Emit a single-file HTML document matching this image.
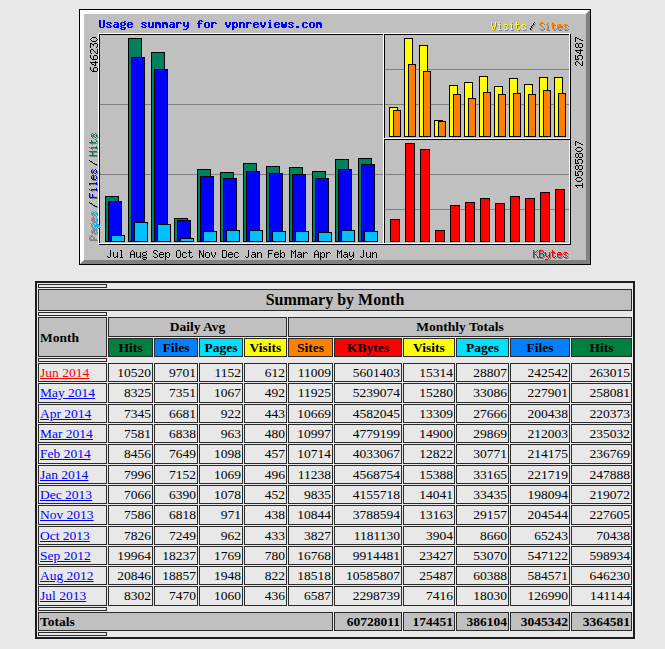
<html><head><meta charset="utf-8"><style>
html,body{margin:0;padding:0;background:#e8e8e8;width:665px;height:649px;overflow:hidden;position:relative}
body{font-family:"Liberation Serif",serif;color:#000}
table.s{position:absolute;left:35px;top:281px;width:600px;border-collapse:separate;border-spacing:1px;border:2px solid #1c1c1c;table-layout:fixed}
table.s td,table.s th{border:1px solid #2a2a2a;padding:1px;font-family:"Liberation Serif",serif;line-height:15.32px}
table.s th.big{line-height:18.38px}
font[size="-1"]{font-size:13.5px}
a{color:#0000ff} a.v{color:#ff0000}
</style></head><body>
<svg width="512" height="256" viewBox="0 0 512 256" shape-rendering="crispEdges" style="position:absolute;left:79px;top:9px">
<rect x="0" y="0" width="512" height="256" fill="#c0c0c0"/>
<rect x="0" y="0" width="512" height="1" fill="#000000"/>
<rect x="0" y="255" width="512" height="1" fill="#000000"/>
<rect x="0" y="0" width="1" height="256" fill="#000000"/>
<rect x="511" y="0" width="1" height="256" fill="#000000"/>
<rect x="1" y="1" width="509" height="1" fill="#ffffff"/>
<rect x="1" y="1" width="1" height="253" fill="#ffffff"/>
<rect x="2" y="254" width="509" height="1" fill="#808080"/>
<rect x="510" y="2" width="1" height="253" fill="#808080"/>
<rect x="2" y="2" width="507" height="1" fill="#ffffff"/>
<rect x="2" y="2" width="1" height="251" fill="#ffffff"/>
<rect x="3" y="253" width="507" height="1" fill="#808080"/>
<rect x="509" y="3" width="1" height="251" fill="#808080"/>
<rect x="3" y="3" width="505" height="1" fill="#ffffff"/>
<rect x="3" y="3" width="1" height="249" fill="#ffffff"/>
<rect x="4" y="252" width="505" height="1" fill="#808080"/>
<rect x="508" y="4" width="1" height="249" fill="#808080"/>
<rect x="4" y="4" width="503" height="1" fill="#ffffff"/>
<rect x="4" y="4" width="1" height="247" fill="#ffffff"/>
<rect x="5" y="251" width="503" height="1" fill="#808080"/>
<rect x="507" y="5" width="1" height="247" fill="#808080"/>
<rect x="21" y="95" width="470" height="1" fill="#808080"/>
<rect x="21" y="165" width="470" height="1" fill="#808080"/>
<rect x="306" y="60" width="185" height="1" fill="#808080"/>
<rect x="306" y="200" width="185" height="1" fill="#808080"/>
<rect x="20" y="25" width="472" height="1" fill="#000000"/>
<rect x="20" y="235" width="472" height="1" fill="#000000"/>
<rect x="20" y="25" width="1" height="211" fill="#000000"/>
<rect x="491" y="25" width="1" height="211" fill="#000000"/>
<rect x="19" y="24" width="472" height="1" fill="#ffffff"/>
<rect x="19" y="234" width="472" height="1" fill="#ffffff"/>
<rect x="19" y="24" width="1" height="211" fill="#ffffff"/>
<rect x="490" y="24" width="1" height="211" fill="#ffffff"/>
<rect x="305" y="25" width="1" height="209" fill="#000000"/>
<rect x="304" y="25" width="1" height="209" fill="#ffffff"/>
<rect x="305" y="130" width="186" height="1" fill="#000000"/>
<rect x="305" y="129" width="186" height="1" fill="#ffffff"/>
<rect x="26" y="187" width="14" height="46" fill="#00805c"/>
<rect x="26" y="187" width="14" height="1" fill="#000000"/>
<rect x="26" y="232" width="14" height="1" fill="#000000"/>
<rect x="26" y="187" width="1" height="46" fill="#000000"/>
<rect x="39" y="187" width="1" height="46" fill="#000000"/>
<rect x="29" y="192" width="14" height="41" fill="#0000ff"/>
<rect x="29" y="192" width="14" height="1" fill="#000000"/>
<rect x="29" y="232" width="14" height="1" fill="#000000"/>
<rect x="29" y="192" width="1" height="41" fill="#000000"/>
<rect x="42" y="192" width="1" height="41" fill="#000000"/>
<rect x="32" y="226" width="14" height="7" fill="#00c0ff"/>
<rect x="32" y="226" width="14" height="1" fill="#000000"/>
<rect x="32" y="232" width="14" height="1" fill="#000000"/>
<rect x="32" y="226" width="1" height="7" fill="#000000"/>
<rect x="45" y="226" width="1" height="7" fill="#000000"/>
<rect x="49" y="29" width="14" height="204" fill="#00805c"/>
<rect x="49" y="29" width="14" height="1" fill="#000000"/>
<rect x="49" y="232" width="14" height="1" fill="#000000"/>
<rect x="49" y="29" width="1" height="204" fill="#000000"/>
<rect x="62" y="29" width="1" height="204" fill="#000000"/>
<rect x="52" y="48" width="14" height="185" fill="#0000ff"/>
<rect x="52" y="48" width="14" height="1" fill="#000000"/>
<rect x="52" y="232" width="14" height="1" fill="#000000"/>
<rect x="52" y="48" width="1" height="185" fill="#000000"/>
<rect x="65" y="48" width="1" height="185" fill="#000000"/>
<rect x="55" y="213" width="14" height="20" fill="#00c0ff"/>
<rect x="55" y="213" width="14" height="1" fill="#000000"/>
<rect x="55" y="232" width="14" height="1" fill="#000000"/>
<rect x="55" y="213" width="1" height="20" fill="#000000"/>
<rect x="68" y="213" width="1" height="20" fill="#000000"/>
<rect x="72" y="43" width="14" height="190" fill="#00805c"/>
<rect x="72" y="43" width="14" height="1" fill="#000000"/>
<rect x="72" y="232" width="14" height="1" fill="#000000"/>
<rect x="72" y="43" width="1" height="190" fill="#000000"/>
<rect x="85" y="43" width="1" height="190" fill="#000000"/>
<rect x="75" y="60" width="14" height="173" fill="#0000ff"/>
<rect x="75" y="60" width="14" height="1" fill="#000000"/>
<rect x="75" y="232" width="14" height="1" fill="#000000"/>
<rect x="75" y="60" width="1" height="173" fill="#000000"/>
<rect x="88" y="60" width="1" height="173" fill="#000000"/>
<rect x="78" y="215" width="14" height="18" fill="#00c0ff"/>
<rect x="78" y="215" width="14" height="1" fill="#000000"/>
<rect x="78" y="232" width="14" height="1" fill="#000000"/>
<rect x="78" y="215" width="1" height="18" fill="#000000"/>
<rect x="91" y="215" width="1" height="18" fill="#000000"/>
<rect x="95" y="209" width="14" height="24" fill="#00805c"/>
<rect x="95" y="209" width="14" height="1" fill="#000000"/>
<rect x="95" y="232" width="14" height="1" fill="#000000"/>
<rect x="95" y="209" width="1" height="24" fill="#000000"/>
<rect x="108" y="209" width="1" height="24" fill="#000000"/>
<rect x="98" y="211" width="14" height="22" fill="#0000ff"/>
<rect x="98" y="211" width="14" height="1" fill="#000000"/>
<rect x="98" y="232" width="14" height="1" fill="#000000"/>
<rect x="98" y="211" width="1" height="22" fill="#000000"/>
<rect x="111" y="211" width="1" height="22" fill="#000000"/>
<rect x="101" y="229" width="14" height="4" fill="#00c0ff"/>
<rect x="101" y="229" width="14" height="1" fill="#000000"/>
<rect x="101" y="232" width="14" height="1" fill="#000000"/>
<rect x="101" y="229" width="1" height="4" fill="#000000"/>
<rect x="114" y="229" width="1" height="4" fill="#000000"/>
<rect x="118" y="160" width="14" height="73" fill="#00805c"/>
<rect x="118" y="160" width="14" height="1" fill="#000000"/>
<rect x="118" y="232" width="14" height="1" fill="#000000"/>
<rect x="118" y="160" width="1" height="73" fill="#000000"/>
<rect x="131" y="160" width="1" height="73" fill="#000000"/>
<rect x="121" y="167" width="14" height="66" fill="#0000ff"/>
<rect x="121" y="167" width="14" height="1" fill="#000000"/>
<rect x="121" y="232" width="14" height="1" fill="#000000"/>
<rect x="121" y="167" width="1" height="66" fill="#000000"/>
<rect x="134" y="167" width="1" height="66" fill="#000000"/>
<rect x="124" y="222" width="14" height="11" fill="#00c0ff"/>
<rect x="124" y="222" width="14" height="1" fill="#000000"/>
<rect x="124" y="232" width="14" height="1" fill="#000000"/>
<rect x="124" y="222" width="1" height="11" fill="#000000"/>
<rect x="137" y="222" width="1" height="11" fill="#000000"/>
<rect x="141" y="163" width="14" height="70" fill="#00805c"/>
<rect x="141" y="163" width="14" height="1" fill="#000000"/>
<rect x="141" y="232" width="14" height="1" fill="#000000"/>
<rect x="141" y="163" width="1" height="70" fill="#000000"/>
<rect x="154" y="163" width="1" height="70" fill="#000000"/>
<rect x="144" y="169" width="14" height="64" fill="#0000ff"/>
<rect x="144" y="169" width="14" height="1" fill="#000000"/>
<rect x="144" y="232" width="14" height="1" fill="#000000"/>
<rect x="144" y="169" width="1" height="64" fill="#000000"/>
<rect x="157" y="169" width="1" height="64" fill="#000000"/>
<rect x="147" y="221" width="14" height="12" fill="#00c0ff"/>
<rect x="147" y="221" width="14" height="1" fill="#000000"/>
<rect x="147" y="232" width="14" height="1" fill="#000000"/>
<rect x="147" y="221" width="1" height="12" fill="#000000"/>
<rect x="160" y="221" width="1" height="12" fill="#000000"/>
<rect x="164" y="154" width="14" height="79" fill="#00805c"/>
<rect x="164" y="154" width="14" height="1" fill="#000000"/>
<rect x="164" y="232" width="14" height="1" fill="#000000"/>
<rect x="164" y="154" width="1" height="79" fill="#000000"/>
<rect x="177" y="154" width="1" height="79" fill="#000000"/>
<rect x="167" y="162" width="14" height="71" fill="#0000ff"/>
<rect x="167" y="162" width="14" height="1" fill="#000000"/>
<rect x="167" y="232" width="14" height="1" fill="#000000"/>
<rect x="167" y="162" width="1" height="71" fill="#000000"/>
<rect x="180" y="162" width="1" height="71" fill="#000000"/>
<rect x="170" y="221" width="14" height="12" fill="#00c0ff"/>
<rect x="170" y="221" width="14" height="1" fill="#000000"/>
<rect x="170" y="232" width="14" height="1" fill="#000000"/>
<rect x="170" y="221" width="1" height="12" fill="#000000"/>
<rect x="183" y="221" width="1" height="12" fill="#000000"/>
<rect x="187" y="157" width="14" height="76" fill="#00805c"/>
<rect x="187" y="157" width="14" height="1" fill="#000000"/>
<rect x="187" y="232" width="14" height="1" fill="#000000"/>
<rect x="187" y="157" width="1" height="76" fill="#000000"/>
<rect x="200" y="157" width="1" height="76" fill="#000000"/>
<rect x="190" y="164" width="14" height="69" fill="#0000ff"/>
<rect x="190" y="164" width="14" height="1" fill="#000000"/>
<rect x="190" y="232" width="14" height="1" fill="#000000"/>
<rect x="190" y="164" width="1" height="69" fill="#000000"/>
<rect x="203" y="164" width="1" height="69" fill="#000000"/>
<rect x="193" y="222" width="14" height="11" fill="#00c0ff"/>
<rect x="193" y="222" width="14" height="1" fill="#000000"/>
<rect x="193" y="232" width="14" height="1" fill="#000000"/>
<rect x="193" y="222" width="1" height="11" fill="#000000"/>
<rect x="206" y="222" width="1" height="11" fill="#000000"/>
<rect x="210" y="158" width="14" height="75" fill="#00805c"/>
<rect x="210" y="158" width="14" height="1" fill="#000000"/>
<rect x="210" y="232" width="14" height="1" fill="#000000"/>
<rect x="210" y="158" width="1" height="75" fill="#000000"/>
<rect x="223" y="158" width="1" height="75" fill="#000000"/>
<rect x="213" y="165" width="14" height="68" fill="#0000ff"/>
<rect x="213" y="165" width="14" height="1" fill="#000000"/>
<rect x="213" y="232" width="14" height="1" fill="#000000"/>
<rect x="213" y="165" width="1" height="68" fill="#000000"/>
<rect x="226" y="165" width="1" height="68" fill="#000000"/>
<rect x="216" y="222" width="14" height="11" fill="#00c0ff"/>
<rect x="216" y="222" width="14" height="1" fill="#000000"/>
<rect x="216" y="232" width="14" height="1" fill="#000000"/>
<rect x="216" y="222" width="1" height="11" fill="#000000"/>
<rect x="229" y="222" width="1" height="11" fill="#000000"/>
<rect x="233" y="162" width="14" height="71" fill="#00805c"/>
<rect x="233" y="162" width="14" height="1" fill="#000000"/>
<rect x="233" y="232" width="14" height="1" fill="#000000"/>
<rect x="233" y="162" width="1" height="71" fill="#000000"/>
<rect x="246" y="162" width="1" height="71" fill="#000000"/>
<rect x="236" y="169" width="14" height="64" fill="#0000ff"/>
<rect x="236" y="169" width="14" height="1" fill="#000000"/>
<rect x="236" y="232" width="14" height="1" fill="#000000"/>
<rect x="236" y="169" width="1" height="64" fill="#000000"/>
<rect x="249" y="169" width="1" height="64" fill="#000000"/>
<rect x="239" y="223" width="14" height="10" fill="#00c0ff"/>
<rect x="239" y="223" width="14" height="1" fill="#000000"/>
<rect x="239" y="232" width="14" height="1" fill="#000000"/>
<rect x="239" y="223" width="1" height="10" fill="#000000"/>
<rect x="252" y="223" width="1" height="10" fill="#000000"/>
<rect x="256" y="150" width="14" height="83" fill="#00805c"/>
<rect x="256" y="150" width="14" height="1" fill="#000000"/>
<rect x="256" y="232" width="14" height="1" fill="#000000"/>
<rect x="256" y="150" width="1" height="83" fill="#000000"/>
<rect x="269" y="150" width="1" height="83" fill="#000000"/>
<rect x="259" y="160" width="14" height="73" fill="#0000ff"/>
<rect x="259" y="160" width="14" height="1" fill="#000000"/>
<rect x="259" y="232" width="14" height="1" fill="#000000"/>
<rect x="259" y="160" width="1" height="73" fill="#000000"/>
<rect x="272" y="160" width="1" height="73" fill="#000000"/>
<rect x="262" y="221" width="14" height="12" fill="#00c0ff"/>
<rect x="262" y="221" width="14" height="1" fill="#000000"/>
<rect x="262" y="232" width="14" height="1" fill="#000000"/>
<rect x="262" y="221" width="1" height="12" fill="#000000"/>
<rect x="275" y="221" width="1" height="12" fill="#000000"/>
<rect x="279" y="149" width="14" height="84" fill="#00805c"/>
<rect x="279" y="149" width="14" height="1" fill="#000000"/>
<rect x="279" y="232" width="14" height="1" fill="#000000"/>
<rect x="279" y="149" width="1" height="84" fill="#000000"/>
<rect x="292" y="149" width="1" height="84" fill="#000000"/>
<rect x="282" y="155" width="14" height="78" fill="#0000ff"/>
<rect x="282" y="155" width="14" height="1" fill="#000000"/>
<rect x="282" y="232" width="14" height="1" fill="#000000"/>
<rect x="282" y="155" width="1" height="78" fill="#000000"/>
<rect x="295" y="155" width="1" height="78" fill="#000000"/>
<rect x="285" y="222" width="14" height="11" fill="#00c0ff"/>
<rect x="285" y="222" width="14" height="1" fill="#000000"/>
<rect x="285" y="232" width="14" height="1" fill="#000000"/>
<rect x="285" y="222" width="1" height="11" fill="#000000"/>
<rect x="298" y="222" width="1" height="11" fill="#000000"/>
<rect x="310" y="98" width="9" height="30" fill="#ffff00"/>
<rect x="310" y="98" width="9" height="1" fill="#000000"/>
<rect x="310" y="127" width="9" height="1" fill="#000000"/>
<rect x="310" y="98" width="1" height="30" fill="#000000"/>
<rect x="318" y="98" width="1" height="30" fill="#000000"/>
<rect x="314" y="101" width="8" height="27" fill="#ff8000"/>
<rect x="314" y="101" width="8" height="1" fill="#000000"/>
<rect x="314" y="127" width="8" height="1" fill="#000000"/>
<rect x="314" y="101" width="1" height="27" fill="#000000"/>
<rect x="321" y="101" width="1" height="27" fill="#000000"/>
<rect x="325" y="29" width="9" height="99" fill="#ffff00"/>
<rect x="325" y="29" width="9" height="1" fill="#000000"/>
<rect x="325" y="127" width="9" height="1" fill="#000000"/>
<rect x="325" y="29" width="1" height="99" fill="#000000"/>
<rect x="333" y="29" width="1" height="99" fill="#000000"/>
<rect x="329" y="55" width="8" height="73" fill="#ff8000"/>
<rect x="329" y="55" width="8" height="1" fill="#000000"/>
<rect x="329" y="127" width="8" height="1" fill="#000000"/>
<rect x="329" y="55" width="1" height="73" fill="#000000"/>
<rect x="336" y="55" width="1" height="73" fill="#000000"/>
<rect x="340" y="36" width="9" height="92" fill="#ffff00"/>
<rect x="340" y="36" width="9" height="1" fill="#000000"/>
<rect x="340" y="127" width="9" height="1" fill="#000000"/>
<rect x="340" y="36" width="1" height="92" fill="#000000"/>
<rect x="348" y="36" width="1" height="92" fill="#000000"/>
<rect x="344" y="62" width="8" height="66" fill="#ff8000"/>
<rect x="344" y="62" width="8" height="1" fill="#000000"/>
<rect x="344" y="127" width="8" height="1" fill="#000000"/>
<rect x="344" y="62" width="1" height="66" fill="#000000"/>
<rect x="351" y="62" width="1" height="66" fill="#000000"/>
<rect x="355" y="111" width="9" height="17" fill="#ffff00"/>
<rect x="355" y="111" width="9" height="1" fill="#000000"/>
<rect x="355" y="127" width="9" height="1" fill="#000000"/>
<rect x="355" y="111" width="1" height="17" fill="#000000"/>
<rect x="363" y="111" width="1" height="17" fill="#000000"/>
<rect x="359" y="112" width="8" height="16" fill="#ff8000"/>
<rect x="359" y="112" width="8" height="1" fill="#000000"/>
<rect x="359" y="127" width="8" height="1" fill="#000000"/>
<rect x="359" y="112" width="1" height="16" fill="#000000"/>
<rect x="366" y="112" width="1" height="16" fill="#000000"/>
<rect x="370" y="76" width="9" height="52" fill="#ffff00"/>
<rect x="370" y="76" width="9" height="1" fill="#000000"/>
<rect x="370" y="127" width="9" height="1" fill="#000000"/>
<rect x="370" y="76" width="1" height="52" fill="#000000"/>
<rect x="378" y="76" width="1" height="52" fill="#000000"/>
<rect x="374" y="85" width="8" height="43" fill="#ff8000"/>
<rect x="374" y="85" width="8" height="1" fill="#000000"/>
<rect x="374" y="127" width="8" height="1" fill="#000000"/>
<rect x="374" y="85" width="1" height="43" fill="#000000"/>
<rect x="381" y="85" width="1" height="43" fill="#000000"/>
<rect x="385" y="73" width="9" height="55" fill="#ffff00"/>
<rect x="385" y="73" width="9" height="1" fill="#000000"/>
<rect x="385" y="127" width="9" height="1" fill="#000000"/>
<rect x="385" y="73" width="1" height="55" fill="#000000"/>
<rect x="393" y="73" width="1" height="55" fill="#000000"/>
<rect x="389" y="89" width="8" height="39" fill="#ff8000"/>
<rect x="389" y="89" width="8" height="1" fill="#000000"/>
<rect x="389" y="127" width="8" height="1" fill="#000000"/>
<rect x="389" y="89" width="1" height="39" fill="#000000"/>
<rect x="396" y="89" width="1" height="39" fill="#000000"/>
<rect x="400" y="67" width="9" height="61" fill="#ffff00"/>
<rect x="400" y="67" width="9" height="1" fill="#000000"/>
<rect x="400" y="127" width="9" height="1" fill="#000000"/>
<rect x="400" y="67" width="1" height="61" fill="#000000"/>
<rect x="408" y="67" width="1" height="61" fill="#000000"/>
<rect x="404" y="83" width="8" height="45" fill="#ff8000"/>
<rect x="404" y="83" width="8" height="1" fill="#000000"/>
<rect x="404" y="127" width="8" height="1" fill="#000000"/>
<rect x="404" y="83" width="1" height="45" fill="#000000"/>
<rect x="411" y="83" width="1" height="45" fill="#000000"/>
<rect x="415" y="77" width="9" height="51" fill="#ffff00"/>
<rect x="415" y="77" width="9" height="1" fill="#000000"/>
<rect x="415" y="127" width="9" height="1" fill="#000000"/>
<rect x="415" y="77" width="1" height="51" fill="#000000"/>
<rect x="423" y="77" width="1" height="51" fill="#000000"/>
<rect x="419" y="85" width="8" height="43" fill="#ff8000"/>
<rect x="419" y="85" width="8" height="1" fill="#000000"/>
<rect x="419" y="127" width="8" height="1" fill="#000000"/>
<rect x="419" y="85" width="1" height="43" fill="#000000"/>
<rect x="426" y="85" width="1" height="43" fill="#000000"/>
<rect x="430" y="69" width="9" height="59" fill="#ffff00"/>
<rect x="430" y="69" width="9" height="1" fill="#000000"/>
<rect x="430" y="127" width="9" height="1" fill="#000000"/>
<rect x="430" y="69" width="1" height="59" fill="#000000"/>
<rect x="438" y="69" width="1" height="59" fill="#000000"/>
<rect x="434" y="84" width="8" height="44" fill="#ff8000"/>
<rect x="434" y="84" width="8" height="1" fill="#000000"/>
<rect x="434" y="127" width="8" height="1" fill="#000000"/>
<rect x="434" y="84" width="1" height="44" fill="#000000"/>
<rect x="441" y="84" width="1" height="44" fill="#000000"/>
<rect x="445" y="75" width="9" height="53" fill="#ffff00"/>
<rect x="445" y="75" width="9" height="1" fill="#000000"/>
<rect x="445" y="127" width="9" height="1" fill="#000000"/>
<rect x="445" y="75" width="1" height="53" fill="#000000"/>
<rect x="453" y="75" width="1" height="53" fill="#000000"/>
<rect x="449" y="85" width="8" height="43" fill="#ff8000"/>
<rect x="449" y="85" width="8" height="1" fill="#000000"/>
<rect x="449" y="127" width="8" height="1" fill="#000000"/>
<rect x="449" y="85" width="1" height="43" fill="#000000"/>
<rect x="456" y="85" width="1" height="43" fill="#000000"/>
<rect x="460" y="68" width="9" height="60" fill="#ffff00"/>
<rect x="460" y="68" width="9" height="1" fill="#000000"/>
<rect x="460" y="127" width="9" height="1" fill="#000000"/>
<rect x="460" y="68" width="1" height="60" fill="#000000"/>
<rect x="468" y="68" width="1" height="60" fill="#000000"/>
<rect x="464" y="81" width="8" height="47" fill="#ff8000"/>
<rect x="464" y="81" width="8" height="1" fill="#000000"/>
<rect x="464" y="127" width="8" height="1" fill="#000000"/>
<rect x="464" y="81" width="1" height="47" fill="#000000"/>
<rect x="471" y="81" width="1" height="47" fill="#000000"/>
<rect x="475" y="68" width="9" height="60" fill="#ffff00"/>
<rect x="475" y="68" width="9" height="1" fill="#000000"/>
<rect x="475" y="127" width="9" height="1" fill="#000000"/>
<rect x="475" y="68" width="1" height="60" fill="#000000"/>
<rect x="483" y="68" width="1" height="60" fill="#000000"/>
<rect x="479" y="84" width="8" height="44" fill="#ff8000"/>
<rect x="479" y="84" width="8" height="1" fill="#000000"/>
<rect x="479" y="127" width="8" height="1" fill="#000000"/>
<rect x="479" y="84" width="1" height="44" fill="#000000"/>
<rect x="486" y="84" width="1" height="44" fill="#000000"/>
<rect x="311" y="210" width="10" height="23" fill="#ff0000"/>
<rect x="311" y="210" width="10" height="1" fill="#000000"/>
<rect x="311" y="232" width="10" height="1" fill="#000000"/>
<rect x="311" y="210" width="1" height="23" fill="#000000"/>
<rect x="320" y="210" width="1" height="23" fill="#000000"/>
<rect x="326" y="134" width="10" height="99" fill="#ff0000"/>
<rect x="326" y="134" width="10" height="1" fill="#000000"/>
<rect x="326" y="232" width="10" height="1" fill="#000000"/>
<rect x="326" y="134" width="1" height="99" fill="#000000"/>
<rect x="335" y="134" width="1" height="99" fill="#000000"/>
<rect x="341" y="140" width="10" height="93" fill="#ff0000"/>
<rect x="341" y="140" width="10" height="1" fill="#000000"/>
<rect x="341" y="232" width="10" height="1" fill="#000000"/>
<rect x="341" y="140" width="1" height="93" fill="#000000"/>
<rect x="350" y="140" width="1" height="93" fill="#000000"/>
<rect x="356" y="221" width="10" height="12" fill="#ff0000"/>
<rect x="356" y="221" width="10" height="1" fill="#000000"/>
<rect x="356" y="232" width="10" height="1" fill="#000000"/>
<rect x="356" y="221" width="1" height="12" fill="#000000"/>
<rect x="365" y="221" width="1" height="12" fill="#000000"/>
<rect x="371" y="196" width="10" height="37" fill="#ff0000"/>
<rect x="371" y="196" width="10" height="1" fill="#000000"/>
<rect x="371" y="232" width="10" height="1" fill="#000000"/>
<rect x="371" y="196" width="1" height="37" fill="#000000"/>
<rect x="380" y="196" width="1" height="37" fill="#000000"/>
<rect x="386" y="193" width="10" height="40" fill="#ff0000"/>
<rect x="386" y="193" width="10" height="1" fill="#000000"/>
<rect x="386" y="232" width="10" height="1" fill="#000000"/>
<rect x="386" y="193" width="1" height="40" fill="#000000"/>
<rect x="395" y="193" width="1" height="40" fill="#000000"/>
<rect x="401" y="189" width="10" height="44" fill="#ff0000"/>
<rect x="401" y="189" width="10" height="1" fill="#000000"/>
<rect x="401" y="232" width="10" height="1" fill="#000000"/>
<rect x="401" y="189" width="1" height="44" fill="#000000"/>
<rect x="410" y="189" width="1" height="44" fill="#000000"/>
<rect x="416" y="194" width="10" height="39" fill="#ff0000"/>
<rect x="416" y="194" width="10" height="1" fill="#000000"/>
<rect x="416" y="232" width="10" height="1" fill="#000000"/>
<rect x="416" y="194" width="1" height="39" fill="#000000"/>
<rect x="425" y="194" width="1" height="39" fill="#000000"/>
<rect x="431" y="187" width="10" height="46" fill="#ff0000"/>
<rect x="431" y="187" width="10" height="1" fill="#000000"/>
<rect x="431" y="232" width="10" height="1" fill="#000000"/>
<rect x="431" y="187" width="1" height="46" fill="#000000"/>
<rect x="440" y="187" width="1" height="46" fill="#000000"/>
<rect x="446" y="189" width="10" height="44" fill="#ff0000"/>
<rect x="446" y="189" width="10" height="1" fill="#000000"/>
<rect x="446" y="232" width="10" height="1" fill="#000000"/>
<rect x="446" y="189" width="1" height="44" fill="#000000"/>
<rect x="455" y="189" width="1" height="44" fill="#000000"/>
<rect x="461" y="183" width="10" height="50" fill="#ff0000"/>
<rect x="461" y="183" width="10" height="1" fill="#000000"/>
<rect x="461" y="232" width="10" height="1" fill="#000000"/>
<rect x="461" y="183" width="1" height="50" fill="#000000"/>
<rect x="470" y="183" width="1" height="50" fill="#000000"/>
<rect x="476" y="180" width="10" height="53" fill="#ff0000"/>
<rect x="476" y="180" width="10" height="1" fill="#000000"/>
<rect x="476" y="232" width="10" height="1" fill="#000000"/>
<rect x="476" y="180" width="1" height="53" fill="#000000"/>
<rect x="485" y="180" width="1" height="53" fill="#000000"/>
<path fill="#808080" d="M413 14h1v1h-1zM417 14h1v1h-1zM421 14h1v1h-1zM433 14h1v1h-1zM438 14h1v1h-1zM456 14h1v1h-1zM462 14h3v1h-3zM469 14h1v1h-1zM474 14h1v1h-1zM413 15h1v1h-1zM417 15h1v1h-1zM438 15h1v1h-1zM455 15h1v1h-1zM461 15h1v1h-1zM465 15h1v1h-1zM474 15h1v1h-1zM413 16h1v1h-1zM417 16h1v1h-1zM420 16h2v1h-2zM426 16h3v1h-3zM432 16h2v1h-2zM437 16h4v1h-4zM444 16h3v1h-3zM455 16h1v1h-1zM461 16h1v1h-1zM468 16h2v1h-2zM473 16h4v1h-4zM480 16h3v1h-3zM486 16h3v1h-3zM413 17h1v1h-1zM417 17h1v1h-1zM421 17h1v1h-1zM425 17h1v1h-1zM429 17h1v1h-1zM433 17h1v1h-1zM438 17h1v1h-1zM443 17h1v1h-1zM447 17h1v1h-1zM454 17h1v1h-1zM462 17h2v1h-2zM469 17h1v1h-1zM474 17h1v1h-1zM479 17h1v1h-1zM483 17h1v1h-1zM485 17h1v1h-1zM489 17h1v1h-1zM414 18h1v1h-1zM416 18h1v1h-1zM421 18h1v1h-1zM426 18h2v1h-2zM433 18h1v1h-1zM438 18h1v1h-1zM444 18h2v1h-2zM453 18h1v1h-1zM464 18h1v1h-1zM469 18h1v1h-1zM474 18h1v1h-1zM479 18h5v1h-5zM486 18h2v1h-2zM414 19h1v1h-1zM416 19h1v1h-1zM421 19h1v1h-1zM428 19h1v1h-1zM433 19h1v1h-1zM438 19h1v1h-1zM446 19h1v1h-1zM453 19h1v1h-1zM465 19h1v1h-1zM469 19h1v1h-1zM474 19h1v1h-1zM479 19h1v1h-1zM488 19h1v1h-1zM414 20h1v1h-1zM416 20h1v1h-1zM421 20h1v1h-1zM425 20h1v1h-1zM429 20h1v1h-1zM433 20h1v1h-1zM438 20h1v1h-1zM441 20h1v1h-1zM443 20h1v1h-1zM447 20h1v1h-1zM452 20h1v1h-1zM461 20h1v1h-1zM465 20h1v1h-1zM469 20h1v1h-1zM474 20h1v1h-1zM477 20h1v1h-1zM479 20h1v1h-1zM483 20h1v1h-1zM485 20h1v1h-1zM489 20h1v1h-1zM415 21h1v1h-1zM420 21h3v1h-3zM426 21h3v1h-3zM432 21h3v1h-3zM439 21h2v1h-2zM444 21h3v1h-3zM452 21h1v1h-1zM462 21h3v1h-3zM468 21h3v1h-3zM475 21h2v1h-2zM480 21h3v1h-3zM486 21h3v1h-3zM14 125h1v1h-1zM17 125h1v1h-1zM13 126h1v1h-1zM16 126h1v1h-1zM18 126h1v1h-1zM13 127h1v1h-1zM15 127h1v1h-1zM18 127h1v1h-1zM13 128h1v1h-1zM15 128h1v1h-1zM18 128h1v1h-1zM14 129h1v1h-1zM17 129h1v1h-1zM17 131h1v1h-1zM13 132h1v1h-1zM18 132h1v1h-1zM13 133h1v1h-1zM18 133h1v1h-1zM11 134h7v1h-7zM13 135h1v1h-1zM18 138h1v1h-1zM11 139h1v1h-1zM13 139h6v1h-6zM13 140h1v1h-1zM18 140h1v1h-1zM11 143h8v1h-8zM14 144h1v1h-1zM14 145h1v1h-1zM14 146h1v1h-1zM11 147h8v1h-8zM11 152h1v1h-1zM12 153h2v1h-2zM14 154h1v1h-1zM15 155h2v1h-2zM17 156h2v1h-2zM14 161h1v1h-1zM17 161h1v1h-1zM13 162h1v1h-1zM16 162h1v1h-1zM18 162h1v1h-1zM13 163h1v1h-1zM15 163h1v1h-1zM18 163h1v1h-1zM13 164h1v1h-1zM15 164h1v1h-1zM18 164h1v1h-1zM14 165h1v1h-1zM17 165h1v1h-1zM14 167h2v1h-2zM17 167h1v1h-1zM13 168h1v1h-1zM15 168h1v1h-1zM18 168h1v1h-1zM13 169h1v1h-1zM15 169h1v1h-1zM18 169h1v1h-1zM13 170h1v1h-1zM15 170h1v1h-1zM18 170h1v1h-1zM14 171h4v1h-4zM18 174h1v1h-1zM11 175h8v1h-8zM11 176h1v1h-1zM18 176h1v1h-1zM18 180h1v1h-1zM11 181h1v1h-1zM13 181h6v1h-6zM13 182h1v1h-1zM18 182h1v1h-1zM11 185h1v1h-1zM11 186h1v1h-1zM14 186h1v1h-1zM11 187h1v1h-1zM14 187h1v1h-1zM11 188h1v1h-1zM14 188h1v1h-1zM11 189h8v1h-8zM11 194h1v1h-1zM12 195h2v1h-2zM14 196h1v1h-1zM15 197h2v1h-2zM17 198h2v1h-2zM14 203h1v1h-1zM17 203h1v1h-1zM13 204h1v1h-1zM16 204h1v1h-1zM18 204h1v1h-1zM13 205h1v1h-1zM15 205h1v1h-1zM18 205h1v1h-1zM13 206h1v1h-1zM15 206h1v1h-1zM18 206h1v1h-1zM14 207h1v1h-1zM17 207h1v1h-1zM14 209h2v1h-2zM17 209h1v1h-1zM13 210h1v1h-1zM15 210h1v1h-1zM18 210h1v1h-1zM13 211h1v1h-1zM15 211h1v1h-1zM18 211h1v1h-1zM13 212h1v1h-1zM15 212h1v1h-1zM18 212h1v1h-1zM14 213h4v1h-4zM12 215h1v1h-1zM14 215h2v1h-2zM18 215h2v1h-2zM13 216h1v1h-1zM16 216h1v1h-1zM18 216h1v1h-1zM20 216h1v1h-1zM13 217h1v1h-1zM16 217h1v1h-1zM18 217h1v1h-1zM20 217h1v1h-1zM13 218h1v1h-1zM16 218h1v1h-1zM18 218h1v1h-1zM20 218h1v1h-1zM14 219h2v1h-2zM17 219h1v1h-1zM19 219h1v1h-1zM14 221h5v1h-5zM13 222h1v1h-1zM15 222h1v1h-1zM17 222h1v1h-1zM13 223h1v1h-1zM15 223h1v1h-1zM18 223h1v1h-1zM13 224h1v1h-1zM15 224h1v1h-1zM18 224h1v1h-1zM16 225h2v1h-2zM12 227h3v1h-3zM11 228h1v1h-1zM15 228h1v1h-1zM11 229h1v1h-1zM15 229h1v1h-1zM11 230h1v1h-1zM15 230h1v1h-1zM11 231h8v1h-8zM455 242h1v1h-1zM459 242h1v1h-1zM461 242h4v1h-4zM474 242h1v1h-1zM455 243h1v1h-1zM458 243h1v1h-1zM461 243h1v1h-1zM465 243h1v1h-1zM474 243h1v1h-1zM455 244h1v1h-1zM457 244h1v1h-1zM461 244h1v1h-1zM465 244h1v1h-1zM467 244h1v1h-1zM471 244h1v1h-1zM473 244h4v1h-4zM480 244h3v1h-3zM486 244h3v1h-3zM455 245h2v1h-2zM461 245h4v1h-4zM467 245h1v1h-1zM471 245h1v1h-1zM474 245h1v1h-1zM479 245h1v1h-1zM483 245h1v1h-1zM485 245h1v1h-1zM489 245h1v1h-1zM455 246h1v1h-1zM457 246h1v1h-1zM461 246h1v1h-1zM465 246h1v1h-1zM467 246h1v1h-1zM471 246h1v1h-1zM474 246h1v1h-1zM479 246h5v1h-5zM486 246h2v1h-2zM455 247h1v1h-1zM458 247h1v1h-1zM461 247h1v1h-1zM465 247h1v1h-1zM467 247h1v1h-1zM470 247h2v1h-2zM474 247h1v1h-1zM479 247h1v1h-1zM488 247h1v1h-1zM455 248h1v1h-1zM459 248h1v1h-1zM461 248h1v1h-1zM465 248h1v1h-1zM468 248h2v1h-2zM471 248h1v1h-1zM474 248h1v1h-1zM477 248h1v1h-1zM479 248h1v1h-1zM483 248h1v1h-1zM485 248h1v1h-1zM489 248h1v1h-1zM455 249h1v1h-1zM459 249h1v1h-1zM461 249h4v1h-4zM471 249h1v1h-1zM475 249h2v1h-2zM480 249h3v1h-3zM486 249h3v1h-3zM470 250h1v1h-1zM467 251h3v1h-3z"/>
<path fill="#0000ff" d="M20 11h2v1h-2zM24 11h2v1h-2zM120 11h3v1h-3zM190 11h2v1h-2zM20 12h2v1h-2zM24 12h2v1h-2zM45 12h2v1h-2zM119 12h2v1h-2zM122 12h2v1h-2zM20 13h2v1h-2zM24 13h2v1h-2zM28 13h4v1h-4zM35 13h4v1h-4zM42 13h4v1h-4zM49 13h4v1h-4zM63 13h4v1h-4zM69 13h2v1h-2zM73 13h2v1h-2zM76 13h5v1h-5zM83 13h5v1h-5zM91 13h4v1h-4zM97 13h5v1h-5zM104 13h2v1h-2zM108 13h2v1h-2zM119 13h2v1h-2zM126 13h4v1h-4zM132 13h5v1h-5zM146 13h2v1h-2zM150 13h2v1h-2zM153 13h5v1h-5zM160 13h5v1h-5zM167 13h5v1h-5zM175 13h4v1h-4zM181 13h2v1h-2zM185 13h2v1h-2zM189 13h3v1h-3zM196 13h4v1h-4zM202 13h2v1h-2zM206 13h2v1h-2zM210 13h4v1h-4zM224 13h4v1h-4zM231 13h4v1h-4zM237 13h5v1h-5zM20 14h2v1h-2zM24 14h2v1h-2zM27 14h2v1h-2zM31 14h2v1h-2zM38 14h2v1h-2zM41 14h2v1h-2zM45 14h2v1h-2zM48 14h2v1h-2zM52 14h2v1h-2zM62 14h2v1h-2zM66 14h2v1h-2zM69 14h2v1h-2zM73 14h2v1h-2zM76 14h6v1h-6zM83 14h6v1h-6zM94 14h2v1h-2zM97 14h3v1h-3zM101 14h2v1h-2zM104 14h2v1h-2zM108 14h2v1h-2zM118 14h5v1h-5zM125 14h2v1h-2zM129 14h2v1h-2zM132 14h3v1h-3zM136 14h2v1h-2zM146 14h2v1h-2zM150 14h2v1h-2zM153 14h3v1h-3zM157 14h2v1h-2zM160 14h3v1h-3zM164 14h2v1h-2zM167 14h3v1h-3zM171 14h2v1h-2zM174 14h2v1h-2zM178 14h2v1h-2zM181 14h2v1h-2zM185 14h2v1h-2zM190 14h2v1h-2zM195 14h2v1h-2zM199 14h2v1h-2zM202 14h2v1h-2zM206 14h2v1h-2zM209 14h2v1h-2zM213 14h2v1h-2zM223 14h2v1h-2zM227 14h2v1h-2zM230 14h2v1h-2zM234 14h2v1h-2zM237 14h6v1h-6zM20 15h2v1h-2zM24 15h2v1h-2zM28 15h3v1h-3zM35 15h5v1h-5zM41 15h2v1h-2zM45 15h2v1h-2zM48 15h6v1h-6zM63 15h3v1h-3zM69 15h2v1h-2zM73 15h2v1h-2zM76 15h2v1h-2zM79 15h3v1h-3zM83 15h2v1h-2zM86 15h3v1h-3zM91 15h5v1h-5zM97 15h2v1h-2zM104 15h2v1h-2zM108 15h2v1h-2zM119 15h2v1h-2zM125 15h2v1h-2zM129 15h2v1h-2zM132 15h2v1h-2zM146 15h2v1h-2zM150 15h2v1h-2zM153 15h2v1h-2zM157 15h2v1h-2zM160 15h2v1h-2zM164 15h2v1h-2zM167 15h2v1h-2zM174 15h6v1h-6zM181 15h2v1h-2zM185 15h2v1h-2zM190 15h2v1h-2zM195 15h6v1h-6zM202 15h6v1h-6zM210 15h3v1h-3zM223 15h2v1h-2zM230 15h2v1h-2zM234 15h2v1h-2zM237 15h2v1h-2zM240 15h3v1h-3zM20 16h2v1h-2zM24 16h2v1h-2zM30 16h2v1h-2zM34 16h2v1h-2zM38 16h2v1h-2zM42 16h4v1h-4zM48 16h2v1h-2zM65 16h2v1h-2zM69 16h2v1h-2zM73 16h2v1h-2zM76 16h2v1h-2zM80 16h2v1h-2zM83 16h2v1h-2zM87 16h2v1h-2zM90 16h2v1h-2zM94 16h2v1h-2zM97 16h2v1h-2zM104 16h2v1h-2zM107 16h3v1h-3zM119 16h2v1h-2zM125 16h2v1h-2zM129 16h2v1h-2zM132 16h2v1h-2zM147 16h4v1h-4zM153 16h2v1h-2zM157 16h2v1h-2zM160 16h2v1h-2zM164 16h2v1h-2zM167 16h2v1h-2zM174 16h2v1h-2zM182 16h4v1h-4zM190 16h2v1h-2zM195 16h2v1h-2zM202 16h6v1h-6zM212 16h2v1h-2zM223 16h2v1h-2zM230 16h2v1h-2zM234 16h2v1h-2zM237 16h2v1h-2zM241 16h2v1h-2zM20 17h2v1h-2zM24 17h2v1h-2zM27 17h2v1h-2zM31 17h2v1h-2zM34 17h2v1h-2zM37 17h3v1h-3zM41 17h2v1h-2zM48 17h2v1h-2zM52 17h2v1h-2zM62 17h2v1h-2zM66 17h2v1h-2zM69 17h2v1h-2zM72 17h3v1h-3zM76 17h2v1h-2zM80 17h2v1h-2zM83 17h2v1h-2zM87 17h2v1h-2zM90 17h2v1h-2zM93 17h3v1h-3zM97 17h2v1h-2zM105 17h5v1h-5zM119 17h2v1h-2zM125 17h2v1h-2zM129 17h2v1h-2zM132 17h2v1h-2zM147 17h4v1h-4zM153 17h3v1h-3zM157 17h2v1h-2zM160 17h2v1h-2zM164 17h2v1h-2zM167 17h2v1h-2zM174 17h2v1h-2zM178 17h2v1h-2zM182 17h4v1h-4zM190 17h2v1h-2zM195 17h2v1h-2zM199 17h2v1h-2zM202 17h6v1h-6zM209 17h2v1h-2zM213 17h2v1h-2zM217 17h3v1h-3zM223 17h2v1h-2zM227 17h2v1h-2zM230 17h2v1h-2zM234 17h2v1h-2zM237 17h2v1h-2zM241 17h2v1h-2zM21 18h4v1h-4zM28 18h4v1h-4zM35 18h5v1h-5zM42 18h5v1h-5zM49 18h4v1h-4zM63 18h4v1h-4zM70 18h5v1h-5zM76 18h2v1h-2zM80 18h2v1h-2zM83 18h2v1h-2zM87 18h2v1h-2zM91 18h5v1h-5zM97 18h2v1h-2zM108 18h2v1h-2zM119 18h2v1h-2zM126 18h4v1h-4zM132 18h2v1h-2zM148 18h2v1h-2zM153 18h5v1h-5zM160 18h2v1h-2zM164 18h2v1h-2zM167 18h2v1h-2zM175 18h4v1h-4zM183 18h2v1h-2zM189 18h4v1h-4zM196 18h4v1h-4zM203 18h4v1h-4zM210 18h4v1h-4zM217 18h3v1h-3zM224 18h4v1h-4zM231 18h4v1h-4zM237 18h2v1h-2zM241 18h2v1h-2zM41 19h2v1h-2zM45 19h2v1h-2zM107 19h2v1h-2zM153 19h2v1h-2zM42 20h4v1h-4zM104 20h4v1h-4zM153 20h2v1h-2zM13 160h1v1h-1zM16 160h1v1h-1zM12 161h1v1h-1zM15 161h1v1h-1zM17 161h1v1h-1zM12 162h1v1h-1zM14 162h1v1h-1zM17 162h1v1h-1zM12 163h1v1h-1zM14 163h1v1h-1zM17 163h1v1h-1zM13 164h1v1h-1zM16 164h1v1h-1zM13 166h2v1h-2zM16 166h1v1h-1zM12 167h1v1h-1zM14 167h1v1h-1zM17 167h1v1h-1zM12 168h1v1h-1zM14 168h1v1h-1zM17 168h1v1h-1zM12 169h1v1h-1zM14 169h1v1h-1zM17 169h1v1h-1zM13 170h4v1h-4zM17 173h1v1h-1zM10 174h8v1h-8zM10 175h1v1h-1zM17 175h1v1h-1zM17 179h1v1h-1zM10 180h1v1h-1zM12 180h6v1h-6zM12 181h1v1h-1zM17 181h1v1h-1zM10 184h1v1h-1zM10 185h1v1h-1zM13 185h1v1h-1zM10 186h1v1h-1zM13 186h1v1h-1zM10 187h1v1h-1zM13 187h1v1h-1zM10 188h8v1h-8z"/>
<path fill="#000000" d="M455 13h1v1h-1zM454 14h1v1h-1zM454 15h1v1h-1zM453 16h1v1h-1zM452 17h1v1h-1zM452 18h1v1h-1zM451 19h1v1h-1zM451 20h1v1h-1zM13 28h4v1h-4zM496 28h2v1h-2zM12 29h1v1h-1zM17 29h1v1h-1zM496 29h1v1h-1zM498 29h2v1h-2zM11 30h1v1h-1zM18 30h1v1h-1zM496 30h1v1h-1zM500 30h2v1h-2zM12 31h1v1h-1zM17 31h1v1h-1zM496 31h1v1h-1zM502 31h2v1h-2zM13 32h4v1h-4zM496 32h1v1h-1zM11 34h2v1h-2zM15 34h3v1h-3zM497 34h2v1h-2zM500 34h3v1h-3zM11 35h1v1h-1zM13 35h2v1h-2zM18 35h1v1h-1zM496 35h1v1h-1zM499 35h1v1h-1zM503 35h1v1h-1zM11 36h1v1h-1zM14 36h1v1h-1zM18 36h1v1h-1zM496 36h1v1h-1zM499 36h1v1h-1zM503 36h1v1h-1zM11 37h1v1h-1zM18 37h1v1h-1zM496 37h1v1h-1zM499 37h1v1h-1zM503 37h1v1h-1zM11 38h1v1h-1zM17 38h1v1h-1zM497 38h2v1h-2zM500 38h3v1h-3zM12 40h2v1h-2zM18 40h1v1h-1zM501 40h1v1h-1zM11 41h1v1h-1zM14 41h1v1h-1zM18 41h1v1h-1zM496 41h8v1h-8zM11 42h1v1h-1zM15 42h1v1h-1zM18 42h1v1h-1zM497 42h1v1h-1zM501 42h1v1h-1zM11 43h1v1h-1zM16 43h1v1h-1zM18 43h1v1h-1zM498 43h2v1h-2zM501 43h1v1h-1zM12 44h1v1h-1zM17 44h2v1h-2zM500 44h2v1h-2zM11 46h1v1h-1zM15 46h3v1h-3zM496 46h1v1h-1zM499 46h4v1h-4zM11 47h1v1h-1zM14 47h1v1h-1zM18 47h1v1h-1zM496 47h1v1h-1zM498 47h1v1h-1zM503 47h1v1h-1zM11 48h1v1h-1zM14 48h1v1h-1zM18 48h1v1h-1zM496 48h1v1h-1zM498 48h1v1h-1zM503 48h1v1h-1zM12 49h1v1h-1zM14 49h1v1h-1zM18 49h1v1h-1zM496 49h1v1h-1zM499 49h1v1h-1zM503 49h1v1h-1zM13 50h5v1h-5zM496 50h4v1h-4zM502 50h1v1h-1zM16 52h1v1h-1zM497 52h2v1h-2zM503 52h1v1h-1zM11 53h8v1h-8zM496 53h1v1h-1zM499 53h1v1h-1zM503 53h1v1h-1zM12 54h1v1h-1zM16 54h1v1h-1zM496 54h1v1h-1zM500 54h1v1h-1zM503 54h1v1h-1zM13 55h2v1h-2zM16 55h1v1h-1zM496 55h1v1h-1zM501 55h1v1h-1zM503 55h1v1h-1zM15 56h2v1h-2zM497 56h1v1h-1zM502 56h2v1h-2zM11 58h1v1h-1zM15 58h3v1h-3zM11 59h1v1h-1zM14 59h1v1h-1zM18 59h1v1h-1zM11 60h1v1h-1zM14 60h1v1h-1zM18 60h1v1h-1zM12 61h1v1h-1zM14 61h1v1h-1zM18 61h1v1h-1zM13 62h5v1h-5zM496 132h2v1h-2zM496 133h1v1h-1zM498 133h2v1h-2zM496 134h1v1h-1zM500 134h2v1h-2zM496 135h1v1h-1zM502 135h2v1h-2zM496 136h1v1h-1zM498 138h4v1h-4zM497 139h1v1h-1zM502 139h1v1h-1zM496 140h1v1h-1zM503 140h1v1h-1zM497 141h1v1h-1zM502 141h1v1h-1zM498 142h4v1h-4zM497 144h2v1h-2zM500 144h3v1h-3zM496 145h1v1h-1zM499 145h1v1h-1zM503 145h1v1h-1zM496 146h1v1h-1zM499 146h1v1h-1zM503 146h1v1h-1zM496 147h1v1h-1zM499 147h1v1h-1zM503 147h1v1h-1zM497 148h2v1h-2zM500 148h3v1h-3zM496 150h1v1h-1zM499 150h4v1h-4zM10 151h1v1h-1zM496 151h1v1h-1zM498 151h1v1h-1zM503 151h1v1h-1zM11 152h2v1h-2zM496 152h1v1h-1zM498 152h1v1h-1zM503 152h1v1h-1zM13 153h1v1h-1zM496 153h1v1h-1zM499 153h1v1h-1zM503 153h1v1h-1zM14 154h2v1h-2zM496 154h4v1h-4zM502 154h1v1h-1zM16 155h2v1h-2zM497 156h2v1h-2zM500 156h3v1h-3zM496 157h1v1h-1zM499 157h1v1h-1zM503 157h1v1h-1zM496 158h1v1h-1zM499 158h1v1h-1zM503 158h1v1h-1zM496 159h1v1h-1zM499 159h1v1h-1zM503 159h1v1h-1zM497 160h2v1h-2zM500 160h3v1h-3zM496 162h1v1h-1zM499 162h4v1h-4zM496 163h1v1h-1zM498 163h1v1h-1zM503 163h1v1h-1zM496 164h1v1h-1zM498 164h1v1h-1zM503 164h1v1h-1zM496 165h1v1h-1zM499 165h1v1h-1zM503 165h1v1h-1zM496 166h4v1h-4zM502 166h1v1h-1zM498 168h4v1h-4zM497 169h1v1h-1zM502 169h1v1h-1zM496 170h1v1h-1zM503 170h1v1h-1zM497 171h1v1h-1zM502 171h1v1h-1zM498 172h4v1h-4zM503 174h1v1h-1zM503 175h1v1h-1zM496 176h8v1h-8zM497 177h1v1h-1zM503 177h1v1h-1zM498 178h1v1h-1zM503 178h1v1h-1zM10 193h1v1h-1zM11 194h2v1h-2zM13 195h1v1h-1zM14 196h2v1h-2zM16 197h2v1h-2zM31 241h1v1h-1zM41 241h2v1h-2zM53 241h1v1h-1zM75 241h3v1h-3zM98 241h3v1h-3zM110 241h1v1h-1zM120 241h1v1h-1zM124 241h1v1h-1zM143 241h4v1h-4zM169 241h1v1h-1zM189 241h5v1h-5zM201 241h1v1h-1zM212 241h1v1h-1zM216 241h1v1h-1zM237 241h1v1h-1zM258 241h1v1h-1zM262 241h1v1h-1zM284 241h1v1h-1zM31 242h1v1h-1zM42 242h1v1h-1zM52 242h1v1h-1zM54 242h1v1h-1zM67 242h1v1h-1zM74 242h1v1h-1zM78 242h1v1h-1zM97 242h1v1h-1zM101 242h1v1h-1zM110 242h1v1h-1zM120 242h2v1h-2zM124 242h1v1h-1zM143 242h1v1h-1zM147 242h1v1h-1zM169 242h1v1h-1zM189 242h1v1h-1zM201 242h1v1h-1zM212 242h2v1h-2zM215 242h2v1h-2zM236 242h1v1h-1zM238 242h1v1h-1zM258 242h2v1h-2zM261 242h2v1h-2zM284 242h1v1h-1zM31 243h1v1h-1zM34 243h1v1h-1zM38 243h1v1h-1zM42 243h1v1h-1zM51 243h1v1h-1zM55 243h1v1h-1zM57 243h1v1h-1zM61 243h1v1h-1zM64 243h3v1h-3zM74 243h1v1h-1zM81 243h3v1h-3zM86 243h1v1h-1zM88 243h2v1h-2zM97 243h1v1h-1zM101 243h1v1h-1zM104 243h3v1h-3zM109 243h4v1h-4zM120 243h2v1h-2zM124 243h1v1h-1zM127 243h3v1h-3zM132 243h1v1h-1zM136 243h1v1h-1zM143 243h1v1h-1zM147 243h1v1h-1zM150 243h3v1h-3zM156 243h3v1h-3zM169 243h1v1h-1zM173 243h3v1h-3zM178 243h1v1h-1zM180 243h2v1h-2zM189 243h1v1h-1zM196 243h3v1h-3zM201 243h1v1h-1zM203 243h2v1h-2zM212 243h1v1h-1zM214 243h1v1h-1zM216 243h1v1h-1zM219 243h3v1h-3zM224 243h1v1h-1zM226 243h2v1h-2zM235 243h1v1h-1zM239 243h1v1h-1zM241 243h1v1h-1zM243 243h2v1h-2zM247 243h1v1h-1zM249 243h2v1h-2zM258 243h1v1h-1zM260 243h1v1h-1zM262 243h1v1h-1zM265 243h3v1h-3zM270 243h1v1h-1zM274 243h1v1h-1zM284 243h1v1h-1zM287 243h1v1h-1zM291 243h1v1h-1zM293 243h1v1h-1zM295 243h2v1h-2zM31 244h1v1h-1zM34 244h1v1h-1zM38 244h1v1h-1zM42 244h1v1h-1zM51 244h1v1h-1zM55 244h1v1h-1zM57 244h1v1h-1zM61 244h1v1h-1zM63 244h1v1h-1zM67 244h1v1h-1zM75 244h2v1h-2zM80 244h1v1h-1zM84 244h1v1h-1zM86 244h2v1h-2zM90 244h1v1h-1zM97 244h1v1h-1zM101 244h1v1h-1zM103 244h1v1h-1zM107 244h1v1h-1zM110 244h1v1h-1zM120 244h1v1h-1zM122 244h1v1h-1zM124 244h1v1h-1zM126 244h1v1h-1zM130 244h1v1h-1zM132 244h1v1h-1zM136 244h1v1h-1zM143 244h1v1h-1zM147 244h1v1h-1zM149 244h1v1h-1zM153 244h1v1h-1zM155 244h1v1h-1zM159 244h1v1h-1zM169 244h1v1h-1zM176 244h1v1h-1zM178 244h2v1h-2zM182 244h1v1h-1zM189 244h4v1h-4zM195 244h1v1h-1zM199 244h1v1h-1zM201 244h2v1h-2zM205 244h1v1h-1zM212 244h1v1h-1zM214 244h1v1h-1zM216 244h1v1h-1zM222 244h1v1h-1zM224 244h2v1h-2zM228 244h1v1h-1zM235 244h1v1h-1zM239 244h1v1h-1zM241 244h2v1h-2zM245 244h1v1h-1zM247 244h2v1h-2zM251 244h1v1h-1zM258 244h1v1h-1zM260 244h1v1h-1zM262 244h1v1h-1zM268 244h1v1h-1zM270 244h1v1h-1zM274 244h1v1h-1zM284 244h1v1h-1zM287 244h1v1h-1zM291 244h1v1h-1zM293 244h2v1h-2zM297 244h1v1h-1zM31 245h1v1h-1zM34 245h1v1h-1zM38 245h1v1h-1zM42 245h1v1h-1zM51 245h5v1h-5zM57 245h1v1h-1zM61 245h1v1h-1zM63 245h1v1h-1zM67 245h1v1h-1zM77 245h1v1h-1zM80 245h5v1h-5zM86 245h1v1h-1zM90 245h1v1h-1zM97 245h1v1h-1zM101 245h1v1h-1zM103 245h1v1h-1zM110 245h1v1h-1zM120 245h1v1h-1zM122 245h1v1h-1zM124 245h1v1h-1zM126 245h1v1h-1zM130 245h1v1h-1zM132 245h1v1h-1zM136 245h1v1h-1zM143 245h1v1h-1zM147 245h1v1h-1zM149 245h5v1h-5zM155 245h1v1h-1zM169 245h1v1h-1zM173 245h4v1h-4zM178 245h1v1h-1zM182 245h1v1h-1zM189 245h1v1h-1zM195 245h5v1h-5zM201 245h1v1h-1zM205 245h1v1h-1zM212 245h1v1h-1zM216 245h1v1h-1zM219 245h4v1h-4zM224 245h1v1h-1zM235 245h5v1h-5zM241 245h1v1h-1zM245 245h1v1h-1zM247 245h1v1h-1zM258 245h1v1h-1zM262 245h1v1h-1zM265 245h4v1h-4zM270 245h1v1h-1zM274 245h1v1h-1zM284 245h1v1h-1zM287 245h1v1h-1zM291 245h1v1h-1zM293 245h1v1h-1zM297 245h1v1h-1zM31 246h1v1h-1zM34 246h1v1h-1zM38 246h1v1h-1zM42 246h1v1h-1zM51 246h1v1h-1zM55 246h1v1h-1zM57 246h1v1h-1zM61 246h1v1h-1zM64 246h3v1h-3zM78 246h1v1h-1zM80 246h1v1h-1zM86 246h1v1h-1zM90 246h1v1h-1zM97 246h1v1h-1zM101 246h1v1h-1zM103 246h1v1h-1zM110 246h1v1h-1zM120 246h1v1h-1zM123 246h2v1h-2zM126 246h1v1h-1zM130 246h1v1h-1zM133 246h1v1h-1zM135 246h1v1h-1zM143 246h1v1h-1zM147 246h1v1h-1zM149 246h1v1h-1zM155 246h1v1h-1zM169 246h1v1h-1zM172 246h1v1h-1zM176 246h1v1h-1zM178 246h1v1h-1zM182 246h1v1h-1zM189 246h1v1h-1zM195 246h1v1h-1zM201 246h1v1h-1zM205 246h1v1h-1zM212 246h1v1h-1zM216 246h1v1h-1zM218 246h1v1h-1zM222 246h1v1h-1zM224 246h1v1h-1zM235 246h1v1h-1zM239 246h1v1h-1zM241 246h1v1h-1zM245 246h1v1h-1zM247 246h1v1h-1zM258 246h1v1h-1zM262 246h1v1h-1zM264 246h1v1h-1zM268 246h1v1h-1zM270 246h1v1h-1zM273 246h2v1h-2zM284 246h1v1h-1zM287 246h1v1h-1zM291 246h1v1h-1zM293 246h1v1h-1zM297 246h1v1h-1zM28 247h1v1h-1zM31 247h1v1h-1zM34 247h1v1h-1zM37 247h2v1h-2zM42 247h1v1h-1zM51 247h1v1h-1zM55 247h1v1h-1zM57 247h1v1h-1zM60 247h2v1h-2zM63 247h1v1h-1zM74 247h1v1h-1zM78 247h1v1h-1zM80 247h1v1h-1zM84 247h1v1h-1zM86 247h2v1h-2zM90 247h1v1h-1zM97 247h1v1h-1zM101 247h1v1h-1zM103 247h1v1h-1zM107 247h1v1h-1zM110 247h1v1h-1zM113 247h1v1h-1zM120 247h1v1h-1zM123 247h2v1h-2zM126 247h1v1h-1zM130 247h1v1h-1zM133 247h1v1h-1zM135 247h1v1h-1zM143 247h1v1h-1zM147 247h1v1h-1zM149 247h1v1h-1zM153 247h1v1h-1zM155 247h1v1h-1zM159 247h1v1h-1zM166 247h1v1h-1zM169 247h1v1h-1zM172 247h1v1h-1zM175 247h2v1h-2zM178 247h1v1h-1zM182 247h1v1h-1zM189 247h1v1h-1zM195 247h1v1h-1zM199 247h1v1h-1zM201 247h2v1h-2zM205 247h1v1h-1zM212 247h1v1h-1zM216 247h1v1h-1zM218 247h1v1h-1zM221 247h2v1h-2zM224 247h1v1h-1zM235 247h1v1h-1zM239 247h1v1h-1zM241 247h2v1h-2zM245 247h1v1h-1zM247 247h1v1h-1zM258 247h1v1h-1zM262 247h1v1h-1zM264 247h1v1h-1zM267 247h2v1h-2zM271 247h2v1h-2zM274 247h1v1h-1zM281 247h1v1h-1zM284 247h1v1h-1zM287 247h1v1h-1zM290 247h2v1h-2zM293 247h1v1h-1zM297 247h1v1h-1zM29 248h2v1h-2zM35 248h2v1h-2zM38 248h1v1h-1zM41 248h3v1h-3zM51 248h1v1h-1zM55 248h1v1h-1zM58 248h2v1h-2zM61 248h1v1h-1zM64 248h4v1h-4zM75 248h3v1h-3zM81 248h3v1h-3zM86 248h1v1h-1zM88 248h2v1h-2zM98 248h3v1h-3zM104 248h3v1h-3zM111 248h2v1h-2zM120 248h1v1h-1zM124 248h1v1h-1zM127 248h3v1h-3zM134 248h1v1h-1zM143 248h4v1h-4zM150 248h3v1h-3zM156 248h3v1h-3zM167 248h2v1h-2zM173 248h2v1h-2zM176 248h1v1h-1zM178 248h1v1h-1zM182 248h1v1h-1zM189 248h1v1h-1zM196 248h3v1h-3zM201 248h1v1h-1zM203 248h2v1h-2zM212 248h1v1h-1zM216 248h1v1h-1zM219 248h2v1h-2zM222 248h1v1h-1zM224 248h1v1h-1zM235 248h1v1h-1zM239 248h1v1h-1zM241 248h1v1h-1zM243 248h2v1h-2zM247 248h1v1h-1zM258 248h1v1h-1zM262 248h1v1h-1zM265 248h2v1h-2zM268 248h1v1h-1zM274 248h1v1h-1zM282 248h2v1h-2zM288 248h2v1h-2zM291 248h1v1h-1zM293 248h1v1h-1zM297 248h1v1h-1zM63 249h1v1h-1zM67 249h1v1h-1zM86 249h1v1h-1zM241 249h1v1h-1zM273 249h1v1h-1zM64 250h3v1h-3zM86 250h1v1h-1zM241 250h1v1h-1zM270 250h3v1h-3z"/>
<path fill="#ffff00" d="M412 13h1v1h-1zM416 13h1v1h-1zM420 13h1v1h-1zM432 13h1v1h-1zM437 13h1v1h-1zM412 14h1v1h-1zM416 14h1v1h-1zM437 14h1v1h-1zM412 15h1v1h-1zM416 15h1v1h-1zM419 15h2v1h-2zM425 15h3v1h-3zM431 15h2v1h-2zM436 15h4v1h-4zM443 15h3v1h-3zM412 16h1v1h-1zM416 16h1v1h-1zM420 16h1v1h-1zM424 16h1v1h-1zM428 16h1v1h-1zM432 16h1v1h-1zM437 16h1v1h-1zM442 16h1v1h-1zM446 16h1v1h-1zM413 17h1v1h-1zM415 17h1v1h-1zM420 17h1v1h-1zM425 17h2v1h-2zM432 17h1v1h-1zM437 17h1v1h-1zM443 17h2v1h-2zM413 18h1v1h-1zM415 18h1v1h-1zM420 18h1v1h-1zM427 18h1v1h-1zM432 18h1v1h-1zM437 18h1v1h-1zM445 18h1v1h-1zM413 19h1v1h-1zM415 19h1v1h-1zM420 19h1v1h-1zM424 19h1v1h-1zM428 19h1v1h-1zM432 19h1v1h-1zM437 19h1v1h-1zM440 19h1v1h-1zM442 19h1v1h-1zM446 19h1v1h-1zM414 20h1v1h-1zM419 20h3v1h-3zM425 20h3v1h-3zM431 20h3v1h-3zM438 20h2v1h-2zM443 20h3v1h-3z"/>
<path fill="#ff8000" d="M461 13h3v1h-3zM468 13h1v1h-1zM473 13h1v1h-1zM460 14h1v1h-1zM464 14h1v1h-1zM473 14h1v1h-1zM460 15h1v1h-1zM467 15h2v1h-2zM472 15h4v1h-4zM479 15h3v1h-3zM485 15h3v1h-3zM461 16h2v1h-2zM468 16h1v1h-1zM473 16h1v1h-1zM478 16h1v1h-1zM482 16h1v1h-1zM484 16h1v1h-1zM488 16h1v1h-1zM463 17h1v1h-1zM468 17h1v1h-1zM473 17h1v1h-1zM478 17h5v1h-5zM485 17h2v1h-2zM464 18h1v1h-1zM468 18h1v1h-1zM473 18h1v1h-1zM478 18h1v1h-1zM487 18h1v1h-1zM460 19h1v1h-1zM464 19h1v1h-1zM468 19h1v1h-1zM473 19h1v1h-1zM476 19h1v1h-1zM478 19h1v1h-1zM482 19h1v1h-1zM484 19h1v1h-1zM488 19h1v1h-1zM461 20h3v1h-3zM467 20h3v1h-3zM474 20h2v1h-2zM479 20h3v1h-3zM485 20h3v1h-3z"/>
<path fill="#ff0000" d="M454 241h1v1h-1zM458 241h1v1h-1zM460 241h4v1h-4zM473 241h1v1h-1zM454 242h1v1h-1zM457 242h1v1h-1zM460 242h1v1h-1zM464 242h1v1h-1zM473 242h1v1h-1zM454 243h1v1h-1zM456 243h1v1h-1zM460 243h1v1h-1zM464 243h1v1h-1zM466 243h1v1h-1zM470 243h1v1h-1zM472 243h4v1h-4zM479 243h3v1h-3zM485 243h3v1h-3zM454 244h2v1h-2zM460 244h4v1h-4zM466 244h1v1h-1zM470 244h1v1h-1zM473 244h1v1h-1zM478 244h1v1h-1zM482 244h1v1h-1zM484 244h1v1h-1zM488 244h1v1h-1zM454 245h1v1h-1zM456 245h1v1h-1zM460 245h1v1h-1zM464 245h1v1h-1zM466 245h1v1h-1zM470 245h1v1h-1zM473 245h1v1h-1zM478 245h5v1h-5zM485 245h2v1h-2zM454 246h1v1h-1zM457 246h1v1h-1zM460 246h1v1h-1zM464 246h1v1h-1zM466 246h1v1h-1zM469 246h2v1h-2zM473 246h1v1h-1zM478 246h1v1h-1zM487 246h1v1h-1zM454 247h1v1h-1zM458 247h1v1h-1zM460 247h1v1h-1zM464 247h1v1h-1zM467 247h2v1h-2zM470 247h1v1h-1zM473 247h1v1h-1zM476 247h1v1h-1zM478 247h1v1h-1zM482 247h1v1h-1zM484 247h1v1h-1zM488 247h1v1h-1zM454 248h1v1h-1zM458 248h1v1h-1zM460 248h4v1h-4zM470 248h1v1h-1zM474 248h2v1h-2zM479 248h3v1h-3zM485 248h3v1h-3zM469 249h1v1h-1zM466 250h3v1h-3z"/>
<path fill="#00c0ff" d="M13 202h1v1h-1zM16 202h1v1h-1zM12 203h1v1h-1zM15 203h1v1h-1zM17 203h1v1h-1zM12 204h1v1h-1zM14 204h1v1h-1zM17 204h1v1h-1zM12 205h1v1h-1zM14 205h1v1h-1zM17 205h1v1h-1zM13 206h1v1h-1zM16 206h1v1h-1zM13 208h2v1h-2zM16 208h1v1h-1zM12 209h1v1h-1zM14 209h1v1h-1zM17 209h1v1h-1zM12 210h1v1h-1zM14 210h1v1h-1zM17 210h1v1h-1zM12 211h1v1h-1zM14 211h1v1h-1zM17 211h1v1h-1zM13 212h4v1h-4zM11 214h1v1h-1zM13 214h2v1h-2zM17 214h2v1h-2zM12 215h1v1h-1zM15 215h1v1h-1zM17 215h1v1h-1zM19 215h1v1h-1zM12 216h1v1h-1zM15 216h1v1h-1zM17 216h1v1h-1zM19 216h1v1h-1zM12 217h1v1h-1zM15 217h1v1h-1zM17 217h1v1h-1zM19 217h1v1h-1zM13 218h2v1h-2zM16 218h1v1h-1zM18 218h1v1h-1zM13 220h5v1h-5zM12 221h1v1h-1zM14 221h1v1h-1zM16 221h1v1h-1zM12 222h1v1h-1zM14 222h1v1h-1zM17 222h1v1h-1zM12 223h1v1h-1zM14 223h1v1h-1zM17 223h1v1h-1zM15 224h2v1h-2zM11 226h3v1h-3zM10 227h1v1h-1zM14 227h1v1h-1zM10 228h1v1h-1zM14 228h1v1h-1zM10 229h1v1h-1zM14 229h1v1h-1zM10 230h8v1h-8z"/>
<path fill="#00805c" d="M13 124h1v1h-1zM16 124h1v1h-1zM12 125h1v1h-1zM15 125h1v1h-1zM17 125h1v1h-1zM12 126h1v1h-1zM14 126h1v1h-1zM17 126h1v1h-1zM12 127h1v1h-1zM14 127h1v1h-1zM17 127h1v1h-1zM13 128h1v1h-1zM16 128h1v1h-1zM16 130h1v1h-1zM12 131h1v1h-1zM17 131h1v1h-1zM12 132h1v1h-1zM17 132h1v1h-1zM10 133h7v1h-7zM12 134h1v1h-1zM17 137h1v1h-1zM10 138h1v1h-1zM12 138h6v1h-6zM12 139h1v1h-1zM17 139h1v1h-1zM10 142h8v1h-8zM13 143h1v1h-1zM13 144h1v1h-1zM13 145h1v1h-1zM10 146h8v1h-8z"/>
</svg>
<table class="s" width=600 cellspacing=1 cellpadding=1>
<colgroup><col style="width:69px"><col style="width:45px"><col style="width:44px"><col style="width:44px"><col style="width:43px"><col style="width:45px"><col style="width:68px"><col style="width:52px"><col style="width:53px"><col style="width:60px"><col style="width:61px"></colgroup>
<tr><th height=4></th></tr>
<tr><th class="big" colspan=11 align=center bgcolor="#C0C0C0">Summary by Month</th></tr>
<tr><th height=4></th></tr>
<tr><th align=left rowspan=2 bgcolor="#C0C0C0"><font size="-1">Month</font></th>
<th align=center colspan=4 bgcolor="#C0C0C0"><font size="-1">Daily Avg</font></th>
<th align=center colspan=6 bgcolor="#C0C0C0"><font size="-1">Monthly Totals</font></th></tr>
<tr><th align=center bgcolor="#008040"><font size="-1">Hits</font></th>
<th align=center bgcolor="#0080ff"><font size="-1">Files</font></th>
<th align=center bgcolor="#00e0ff"><font size="-1">Pages</font></th>
<th align=center bgcolor="#ffff00"><font size="-1">Visits</font></th>
<th align=center bgcolor="#ff8000"><font size="-1">Sites</font></th>
<th align=center bgcolor="#ff0000"><font size="-1">KBytes</font></th>
<th align=center bgcolor="#ffff00"><font size="-1">Visits</font></th>
<th align=center bgcolor="#00e0ff"><font size="-1">Pages</font></th>
<th align=center bgcolor="#0080ff"><font size="-1">Files</font></th>
<th align=center bgcolor="#008040"><font size="-1">Hits</font></th></tr>
<tr><th height=4></th></tr>
<tr><td nowrap><a href="#" class="v"><font size="-1">Jun 2014</font></a></td><td align=right><font size="-1">10520</font></td><td align=right><font size="-1">9701</font></td><td align=right><font size="-1">1152</font></td><td align=right><font size="-1">612</font></td><td align=right><font size="-1">11009</font></td><td align=right><font size="-1">5601403</font></td><td align=right><font size="-1">15314</font></td><td align=right><font size="-1">28807</font></td><td align=right><font size="-1">242542</font></td><td align=right><font size="-1">263015</font></td></tr>
<tr><td nowrap><a href="#"><font size="-1">May 2014</font></a></td><td align=right><font size="-1">8325</font></td><td align=right><font size="-1">7351</font></td><td align=right><font size="-1">1067</font></td><td align=right><font size="-1">492</font></td><td align=right><font size="-1">11925</font></td><td align=right><font size="-1">5239074</font></td><td align=right><font size="-1">15280</font></td><td align=right><font size="-1">33086</font></td><td align=right><font size="-1">227901</font></td><td align=right><font size="-1">258081</font></td></tr>
<tr><td nowrap><a href="#"><font size="-1">Apr 2014</font></a></td><td align=right><font size="-1">7345</font></td><td align=right><font size="-1">6681</font></td><td align=right><font size="-1">922</font></td><td align=right><font size="-1">443</font></td><td align=right><font size="-1">10669</font></td><td align=right><font size="-1">4582045</font></td><td align=right><font size="-1">13309</font></td><td align=right><font size="-1">27666</font></td><td align=right><font size="-1">200438</font></td><td align=right><font size="-1">220373</font></td></tr>
<tr><td nowrap><a href="#"><font size="-1">Mar 2014</font></a></td><td align=right><font size="-1">7581</font></td><td align=right><font size="-1">6838</font></td><td align=right><font size="-1">963</font></td><td align=right><font size="-1">480</font></td><td align=right><font size="-1">10997</font></td><td align=right><font size="-1">4779199</font></td><td align=right><font size="-1">14900</font></td><td align=right><font size="-1">29869</font></td><td align=right><font size="-1">212003</font></td><td align=right><font size="-1">235032</font></td></tr>
<tr><td nowrap><a href="#"><font size="-1">Feb 2014</font></a></td><td align=right><font size="-1">8456</font></td><td align=right><font size="-1">7649</font></td><td align=right><font size="-1">1098</font></td><td align=right><font size="-1">457</font></td><td align=right><font size="-1">10714</font></td><td align=right><font size="-1">4033067</font></td><td align=right><font size="-1">12822</font></td><td align=right><font size="-1">30771</font></td><td align=right><font size="-1">214175</font></td><td align=right><font size="-1">236769</font></td></tr>
<tr><td nowrap><a href="#"><font size="-1">Jan 2014</font></a></td><td align=right><font size="-1">7996</font></td><td align=right><font size="-1">7152</font></td><td align=right><font size="-1">1069</font></td><td align=right><font size="-1">496</font></td><td align=right><font size="-1">11238</font></td><td align=right><font size="-1">4568754</font></td><td align=right><font size="-1">15388</font></td><td align=right><font size="-1">33165</font></td><td align=right><font size="-1">221719</font></td><td align=right><font size="-1">247888</font></td></tr>
<tr><td nowrap><a href="#"><font size="-1">Dec 2013</font></a></td><td align=right><font size="-1">7066</font></td><td align=right><font size="-1">6390</font></td><td align=right><font size="-1">1078</font></td><td align=right><font size="-1">452</font></td><td align=right><font size="-1">9835</font></td><td align=right><font size="-1">4155718</font></td><td align=right><font size="-1">14041</font></td><td align=right><font size="-1">33435</font></td><td align=right><font size="-1">198094</font></td><td align=right><font size="-1">219072</font></td></tr>
<tr><td nowrap><a href="#"><font size="-1">Nov 2013</font></a></td><td align=right><font size="-1">7586</font></td><td align=right><font size="-1">6818</font></td><td align=right><font size="-1">971</font></td><td align=right><font size="-1">438</font></td><td align=right><font size="-1">10844</font></td><td align=right><font size="-1">3788594</font></td><td align=right><font size="-1">13163</font></td><td align=right><font size="-1">29157</font></td><td align=right><font size="-1">204544</font></td><td align=right><font size="-1">227605</font></td></tr>
<tr><td nowrap><a href="#"><font size="-1">Oct 2013</font></a></td><td align=right><font size="-1">7826</font></td><td align=right><font size="-1">7249</font></td><td align=right><font size="-1">962</font></td><td align=right><font size="-1">433</font></td><td align=right><font size="-1">3827</font></td><td align=right><font size="-1">1181130</font></td><td align=right><font size="-1">3904</font></td><td align=right><font size="-1">8660</font></td><td align=right><font size="-1">65243</font></td><td align=right><font size="-1">70438</font></td></tr>
<tr><td nowrap><a href="#"><font size="-1">Sep 2012</font></a></td><td align=right><font size="-1">19964</font></td><td align=right><font size="-1">18237</font></td><td align=right><font size="-1">1769</font></td><td align=right><font size="-1">780</font></td><td align=right><font size="-1">16768</font></td><td align=right><font size="-1">9914481</font></td><td align=right><font size="-1">23427</font></td><td align=right><font size="-1">53070</font></td><td align=right><font size="-1">547122</font></td><td align=right><font size="-1">598934</font></td></tr>
<tr><td nowrap><a href="#"><font size="-1">Aug 2012</font></a></td><td align=right><font size="-1">20846</font></td><td align=right><font size="-1">18857</font></td><td align=right><font size="-1">1948</font></td><td align=right><font size="-1">822</font></td><td align=right><font size="-1">18518</font></td><td align=right><font size="-1">10585807</font></td><td align=right><font size="-1">25487</font></td><td align=right><font size="-1">60388</font></td><td align=right><font size="-1">584571</font></td><td align=right><font size="-1">646230</font></td></tr>
<tr><td nowrap><a href="#"><font size="-1">Jul 2013</font></a></td><td align=right><font size="-1">8302</font></td><td align=right><font size="-1">7470</font></td><td align=right><font size="-1">1060</font></td><td align=right><font size="-1">436</font></td><td align=right><font size="-1">6587</font></td><td align=right><font size="-1">2298739</font></td><td align=right><font size="-1">7416</font></td><td align=right><font size="-1">18030</font></td><td align=right><font size="-1">126990</font></td><td align=right><font size="-1">141144</font></td></tr>
<tr><th height=4></th></tr>
<tr><th bgcolor="#C0C0C0" colspan=6 align=left><font size="-1">Totals</font></th>
<th bgcolor="#C0C0C0" align=right><font size="-1">60728011</font></th>
<th bgcolor="#C0C0C0" align=right><font size="-1">174451</font></th>
<th bgcolor="#C0C0C0" align=right><font size="-1">386104</font></th>
<th bgcolor="#C0C0C0" align=right><font size="-1">3045342</font></th>
<th bgcolor="#C0C0C0" align=right><font size="-1">3364581</font></th></tr>
<tr><th height=4></th></tr>
</table>
</body></html>
